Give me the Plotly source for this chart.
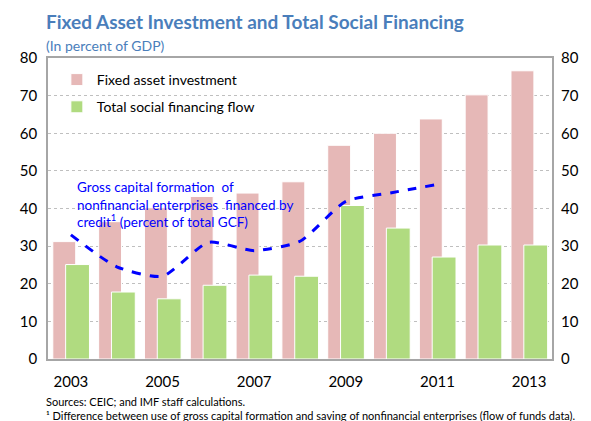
import plotly.graph_objects as go

years = [2003, 2004, 2005, 2006, 2007, 2008, 2009, 2010, 2011, 2012, 2013]
fixed_asset_investment = [31.2, 36.5, 40.2, 43.2, 44.1, 47.1, 56.8, 60.0, 63.8, 70.2, 76.6]
total_social_financing = [25.1, 17.8, 16.0, 19.6, 22.3, 22.0, 40.8, 34.8, 27.1, 30.3, 30.3]
gcf_years = [2003, 2004, 2005, 2006, 2007, 2008, 2009, 2010, 2011]
gcf_credit_share = [33.0, 24.5, 22.0, 31.0, 28.8, 31.3, 41.9, 44.2, 46.4]
tick_years = [2003, 2005, 2007, 2009, 2011, 2013]
y_ticks = [0, 10, 20, 30, 40, 50, 60, 70, 80]

# page has an 8px body margin; figure is sized so that it ends at the window edge
OFF = 8
W, H = 591 - OFF, 421 - OFF
ML, MR, MT, MB = 44 - OFF, 35, 58 - OFF, 62
PW, PH = W - ML - MR, H - MT - MB

def px(x):  # page pixel -> paper x
    return (x - OFF - ML) / PW

def py(y):  # page pixel -> paper y
    return (H - MB - (y - OFF)) / PH

PINK = "#E6B8B7"
GREEN = "#B0DB80"
BLUE = "#0000FF"
TITLE = "#4A7EBB"
FONT = "Lato"

fig = go.Figure()
fig.add_trace(go.Bar(
    x=years, y=fixed_asset_investment, name="Fixed asset investment",
    marker=dict(color=PINK, line=dict(color="white", width=1)),
    offset=-0.395, width=0.5, legendgroup="a",
))
fig.add_trace(go.Bar(
    x=years, y=total_social_financing, name="Total social financing flow",
    marker=dict(color=GREEN, line=dict(color="white", width=1)),
    offset=-0.115, width=0.52, legendgroup="b",
))
fig.add_trace(go.Scatter(
    x=gcf_years, y=gcf_credit_share, mode="lines", showlegend=False,
    line=dict(color=BLUE, width=3, dash="dash", shape="spline", smoothing=0.6),
))
fig.add_trace(go.Scatter(
    x=years, y=fixed_asset_investment, yaxis="y2", mode="markers",
    marker=dict(opacity=0), showlegend=False, hoverinfo="skip",
))

fig.update_layout(
    width=W, height=H,
    margin=dict(l=ML, r=MR, t=MT, b=MB),
    paper_bgcolor="white", plot_bgcolor="white",
    barmode="overlay",
    font=dict(family=FONT, color="black"),
    xaxis=dict(
        range=[2002.5, 2013.5], tickvals=tick_years, ticks="",
        tickfont=dict(size=15), showgrid=False,
        showline=True, linecolor="#A6A6A6", linewidth=1.5, mirror=True,
        zeroline=False, ticklabelstandoff=8,
    ),
    yaxis=dict(
        range=[0, 80], tickvals=y_ticks, ticks="", tickfont=dict(size=15),
        showgrid=True, gridcolor="#BFBFBF", griddash="dot", gridwidth=1,
        showline=True, linecolor="#A6A6A6", linewidth=1.5, mirror=True,
        zeroline=False, ticklabelstandoff=6,
    ),
    yaxis2=dict(
        range=[0, 80], tickvals=y_ticks, ticks="", tickfont=dict(size=15),
        overlaying="y", side="right", showgrid=False, zeroline=False,
        showline=False, ticklabelstandoff=8,
    ),
    legend=dict(
        x=px(53), y=py(64), xanchor="left", yanchor="top",
        bgcolor="rgba(0,0,0,0)", font=dict(size=14), tracegroupgap=6,
        traceorder="grouped", itemwidth=30,
    ),
    showlegend=True,
)

ann = []
ann.append(dict(text="<b>Fixed Asset Investment and Total Social Financing</b>",
                x=px(40), y=py(8), xref="paper", yref="paper",
                xanchor="left", yanchor="top", showarrow=False,
                font=dict(size=19, color=TITLE, family=FONT)))
ann.append(dict(text="(In percent of GDP)",
                x=px(40), y=py(35), xref="paper", yref="paper",
                xanchor="left", yanchor="top", showarrow=False,
                font=dict(size=14, color=TITLE, family=FONT)))
ann.append(dict(text="Gross capital formation  of<br>nonfinancial enterprises  financed by<br>credit<sup>1</sup> (percent of total GCF)",
                x=px(71), y=py(177), xref="paper", yref="paper",
                xanchor="left", yanchor="top", align="left", showarrow=False,
                font=dict(size=13.5, color=BLUE, family=FONT)))
ann.append(dict(text="Sources: CEIC; and IMF staff calculations.",
                x=px(40), y=py(393), xref="paper", yref="paper",
                xanchor="left", yanchor="top", showarrow=False,
                font=dict(size=11, color="black", family=FONT)))
ann.append(dict(text="\u00b9 Difference between use of gross capital formation and saving of nonfinancial enterprises (flow of funds data).",
                x=px(40), y=py(407), xref="paper", yref="paper",
                xanchor="left", yanchor="top", showarrow=False,
                font=dict(size=11, color="black", family=FONT)))
fig.update_layout(annotations=ann)

fig.write_html("out.html")
